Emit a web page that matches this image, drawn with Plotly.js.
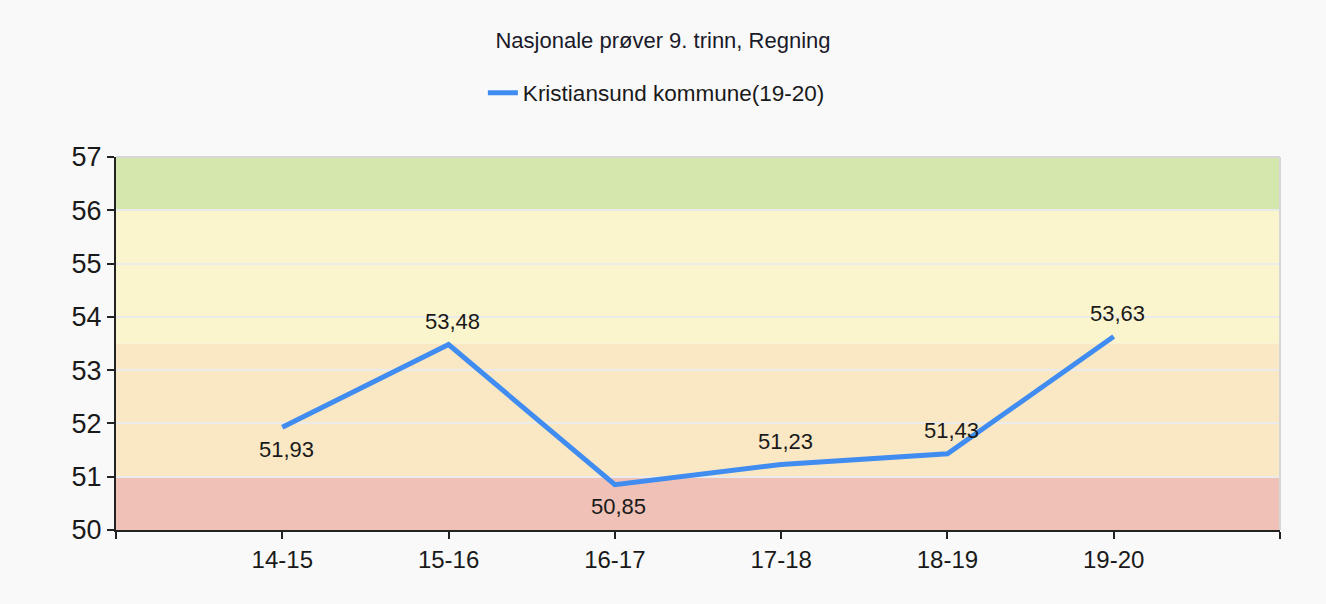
<!DOCTYPE html>
<html>
<head>
<meta charset="utf-8">
<script src="https://cdn.plot.ly/plotly-3.0.1.min.js"></script>
<style>html,body{margin:0;padding:0;background:#f9f9f9;}#chart{width:1326px;height:604px;}</style>
</head>
<body>
<div id="chart"></div>
<script>
const categories = ['14-15', '15-16', '16-17', '17-18', '18-19', '19-20'];
const values = [51.93, 53.48, 50.85, 51.23, 51.43, 53.63];
const labelBelow = [true, false, true, false, false, false];
const seriesName = 'Kristiansund kommune(19-20)';
const chartTitle = 'Nasjonale prøver 9. trinn, Regning';
const bandLimits = [50, 51, 53.5, 56, 57];
const bandColors = ['#f0c2b7', '#fae8c5', '#faf5cd', '#d4e8ae'];
const yTicks = [50, 51, 52, 53, 54, 55, 56, 57];

const FONT = '"Liberation Sans", Arial, sans-serif';
const xIdx = categories.map((c, i) => i);

const shapes = [];
for (let i = 0; i < bandColors.length; i++) {
  shapes.push({type: 'rect', xref: 'paper', yref: 'y', x0: 0, x1: 1, y0: bandLimits[i], y1: bandLimits[i + 1],
    fillcolor: bandColors[i], line: {width: 0}, layer: 'below'});
}
shapes.push({type: 'line', xref: 'paper', yref: 'paper', x0: 0, x1: 1, y0: 1, y1: 1, line: {color: '#d6d6d6', width: 2}});
shapes.push({type: 'line', xref: 'paper', yref: 'paper', x0: 1, x1: 1, y0: 0, y1: 1, line: {color: '#d6d6d6', width: 2}});

const annotations = values.map((v, i) => ({
  x: xIdx[i], y: v, xref: 'x', yref: 'y', showarrow: false,
  text: v.toFixed(2).replace('.', ','),
  yshift: labelBelow[i] ? -22 : 23, xshift: 4,
  font: {family: FONT, size: 22, color: '#1a1a1a'}
}));

const trace = {
  x: xIdx, y: values, type: 'scatter', mode: 'lines', name: seriesName,
  line: {color: '#418cf0', width: 5}
};

const layout = {
  width: 1326, height: 604,
  paper_bgcolor: '#f9f9f9', plot_bgcolor: 'rgba(0,0,0,0)',
  margin: {l: 116, r: 46, t: 157, b: 74},
  showlegend: true,
  title: {text: chartTitle, font: {family: FONT, size: 22, color: '#1a1a2a'},
    x: 0.5, xref: 'container', xanchor: 'center', y: 1 - 40 / 604, yref: 'container', yanchor: 'middle'},
  legend: {orientation: 'h', x: 0.495, xref: 'container', xanchor: 'center', y: 1 - 93 / 604, yref: 'container', yanchor: 'middle',
    bgcolor: 'rgba(0,0,0,0)', font: {family: FONT, size: 22.5, color: '#1a1a1a'}},
  xaxis: {range: [-1, 6], tickmode: 'array', tickvals: [-1].concat(xIdx, [6]), ticktext: [''].concat(categories, ['']),
    ticks: 'outside', ticklen: 7, tickwidth: 2, tickcolor: '#222', showline: true, linecolor: '#222', linewidth: 2,
    showgrid: false, zeroline: false, tickfont: {family: FONT, size: 24, color: '#1a1a1a'}, fixedrange: true},
  yaxis: {range: [50, 57], tickmode: 'array', tickvals: yTicks, ticks: 'outside', ticklen: 7, tickwidth: 2, tickcolor: '#222',
    showline: true, linecolor: '#222', linewidth: 2, showgrid: true, gridcolor: '#ebebeb', gridwidth: 2, zeroline: false,
    tickfont: {family: FONT, size: 27, color: '#1a1a1a'}, fixedrange: true},
  shapes: shapes,
  annotations: annotations
};

Plotly.newPlot('chart', [trace], layout, {displayModeBar: false, staticPlot: true});
</script>
</body>
</html>
